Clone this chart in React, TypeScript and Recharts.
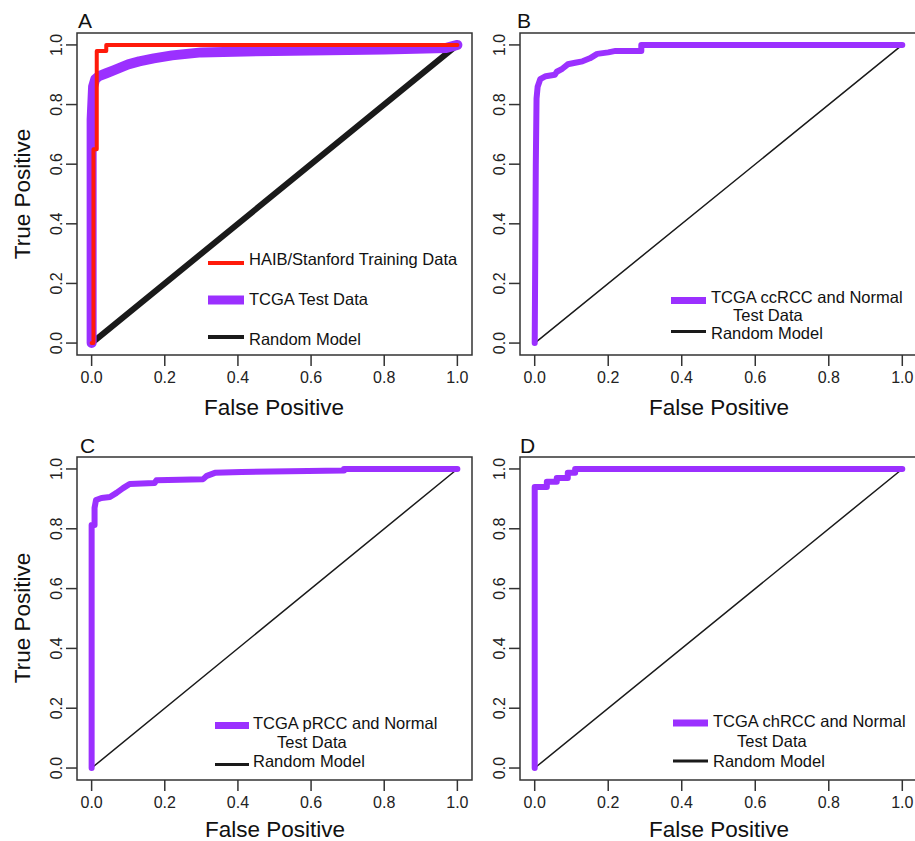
import React from 'react';
import { LineChart, Line, XAxis, YAxis, ReferenceArea } from 'recharts';

// ---------- data ----------
const axisTicks = [0, 0.2, 0.4, 0.6, 0.8, 1.0];
const axisTickLabels = ['0.0', '0.2', '0.4', '0.6', '0.8', '1.0'];

const randomFP = [0, 1];
const randomTP = [0, 1];

// Panel A
const haibFP = [0, 0.005, 0.005, 0.014, 0.014, 0.04, 0.04, 1.0];
const haibTP = [0, 0, 0.65, 0.65, 0.98, 0.98, 1.0, 1.0];
const tcgaFP = [0, 0, 0.004, 0.01, 0.02, 0.04, 0.06, 0.08, 0.1, 0.13, 0.17, 0.22, 0.3, 0.5, 0.8, 0.97, 1.0];
const tcgaTP = [0, 0.75, 0.86, 0.885, 0.895, 0.905, 0.915, 0.925, 0.935, 0.945, 0.955, 0.965, 0.975, 0.98, 0.985, 0.99, 1.0];

// Panel B
const ccFP = [0, 0.003, 0.005, 0.008, 0.015, 0.03, 0.055, 0.06, 0.075, 0.09, 0.11, 0.13, 0.15, 0.17, 0.2, 0.22, 0.29, 0.29, 1.0];
const ccTP = [0, 0.6, 0.82, 0.86, 0.885, 0.895, 0.9, 0.91, 0.92, 0.935, 0.94, 0.945, 0.955, 0.97, 0.975, 0.98, 0.98, 1.0, 1.0];

// Panel C
const pFP = [0, 0, 0.008, 0.008, 0.012, 0.027, 0.05, 0.068, 0.086, 0.104, 0.172, 0.177, 0.305, 0.315, 0.337, 0.41, 0.69, 0.69, 1.0];
const pTP = [0, 0.813, 0.813, 0.87, 0.896, 0.903, 0.906, 0.92, 0.936, 0.95, 0.953, 0.962, 0.966, 0.977, 0.987, 0.99, 0.995, 1.0, 1.0];

// Panel D
const chFP = [0, 0, 0.033, 0.033, 0.06, 0.06, 0.09, 0.09, 0.11, 0.11, 1.0];
const chTP = [0, 0.94, 0.94, 0.957, 0.957, 0.97, 0.97, 0.987, 0.987, 1.0, 1.0];

const panelLetters = ['A', 'B', 'C', 'D'];
const xTitle = 'False Positive';
const yTitle = 'True Positive';
const legendA = ['HAIB/Stanford Training Data', 'TCGA Test Data', 'Random Model'];
const legendB = ['TCGA ccRCC and Normal', 'Test Data', 'Random Model'];
const legendC = ['TCGA pRCC and Normal', 'Test Data', 'Random Model'];
const legendD = ['TCGA chRCC and Normal', 'Test Data', 'Random Model'];

// ---------- styling ----------
const FONT = '"Liberation Sans", Arial, Helvetica, sans-serif';
const RED = '#ff1a0a';
const PURPLE = '#9b30ff';
const BLACK = '#1a1a1a';
const DOMAIN: [number, number] = [-0.04, 1.04];

const zip = (xs: number[], ys: number[]) => xs.map((x, i) => ({ x, y: ys[i] }));
const fmt = (v: number) => {
  const i = axisTicks.indexOf(v);
  return i >= 0 ? axisTickLabels[i] : v.toFixed(1);
};

type Series = { data: { x: number; y: number }[]; color: string; width: number };

const YTick = (p: any) => {
  const { x, y, payload } = p;
  return (
    <text
      x={x}
      y={y}
      transform={`rotate(-90 ${x} ${y})`}
      textAnchor="middle"
      fill="#222"
      fontSize={16}
      fontFamily={FONT}
    >
      {fmt(payload.value)}
    </text>
  );
};

function Panel(props: {
  left: number;
  top: number;
  width: number;
  height: number;
  margin: { top: number; right: number; bottom: number; left: number };
  yWidth: number;
  xHeight: number;
  series: Series[];
}) {
  const { left, top, width, height, margin, yWidth, xHeight, series } = props;
  return (
    <div style={{ position: 'absolute', left, top }}>
      <LineChart width={width} height={height} margin={margin}>
        <XAxis
          type="number"
          dataKey="x"
          domain={DOMAIN}
          ticks={axisTicks}
          interval={0}
          allowDataOverflow
          axisLine={false}
          tickSize={11}
          tickMargin={6}
          height={xHeight}
          tick={{ fill: '#222', fontSize: 16, fontFamily: FONT }}
          tickLine={{ stroke: '#333', strokeWidth: 1.5 }}
          tickFormatter={fmt}
        />
        <YAxis
          type="number"
          domain={DOMAIN}
          ticks={axisTicks}
          interval={0}
          allowDataOverflow
          axisLine={false}
          tickSize={11}
          tickMargin={4}
          width={yWidth}
          tick={(p: any) => <YTick {...p} />}
          tickLine={{ stroke: '#333', strokeWidth: 1.5 }}
        />
        <ReferenceArea
          x1={-0.04}
          x2={1.04}
          y1={-0.04}
          y2={1.04}
          fill="none"
          fillOpacity={0}
          stroke="#333"
          strokeWidth={1.5}
          ifOverflow="visible"
        />
        {series.map((s, i) => (
          <Line
            key={i}
            data={s.data}
            dataKey="y"
            type="linear"
            stroke={s.color}
            strokeWidth={s.width}
            strokeLinecap="round"
            strokeLinejoin="round"
            dot={false}
            activeDot={false}
            isAnimationActive={false}
            legendType="none"
          />
        ))}
      </LineChart>
    </div>
  );
}

const T = (p: { x: number; y: number; size?: number; anchor?: 'start' | 'middle' | 'end'; rot?: boolean; children: React.ReactNode }) => (
  <text
    x={p.x}
    y={p.y}
    fontSize={p.size ?? 16.5}
    fontFamily={FONT}
    fill="#111"
    textAnchor={p.anchor ?? 'start'}
    transform={p.rot ? `rotate(-90 ${p.x} ${p.y})` : undefined}
  >
    {p.children}
  </text>
);

const Swatch = ({ x1, x2, y, color, w }: { x1: number; x2: number; y: number; color: string; w: number }) => (
  <line x1={x1} x2={x2} y1={y} y2={y} stroke={color} strokeWidth={w} />
);

export default function App() {
  const random = zip(randomFP, randomTP);
  const seriesA: Series[] = [
    { data: random, color: BLACK, width: 6 },
    { data: zip(tcgaFP, tcgaTP), color: PURPLE, width: 10 },
    { data: zip(haibFP, haibTP), color: RED, width: 4 },
  ];
  const seriesB: Series[] = [
    { data: random, color: BLACK, width: 1.5 },
    { data: zip(ccFP, ccTP), color: PURPLE, width: 6 },
  ];
  const seriesC: Series[] = [
    { data: random, color: BLACK, width: 1.5 },
    { data: zip(pFP, pTP), color: PURPLE, width: 6 },
  ];
  const seriesD: Series[] = [
    { data: random, color: BLACK, width: 1.5 },
    { data: zip(chFP, chTP), color: PURPLE, width: 6 },
  ];

  return (
    <div
      style={{
        position: 'absolute',
        left: 0,
        top: 0,
        width: 915,
        height: 841,
        overflow: 'hidden',
        background: '#fff',
        fontFamily: FONT,
      }}
    >
      <Panel left={0} top={0} width={480} height={420} margin={{ top: 33, right: 8, bottom: 0, left: 0 }} yWidth={77} xHeight={65} series={seriesA} />
      <Panel left={440} top={0} width={480} height={420} margin={{ top: 33, right: 3, bottom: 0, left: 0 }} yWidth={80} xHeight={65} series={seriesB} />
      <Panel left={0} top={420} width={480} height={421} margin={{ top: 37, right: 8, bottom: 0, left: 0 }} yWidth={77} xHeight={61} series={seriesC} />
      <Panel left={440} top={420} width={480} height={421} margin={{ top: 37, right: 3, bottom: 0, left: 0 }} yWidth={80} xHeight={61} series={seriesD} />

      <svg width={915} height={841} style={{ position: 'absolute', left: 0, top: 0, pointerEvents: 'none' }}>
        {/* panel letters */}
        <T x={78} y={28} size={21}>{panelLetters[0]}</T>
        <T x={517} y={28} size={21}>{panelLetters[1]}</T>
        <T x={80} y={453} size={21}>{panelLetters[2]}</T>
        <T x={520} y={453} size={21}>{panelLetters[3]}</T>

        {/* axis titles */}
        <T x={30} y={194} size={22.5} anchor="middle" rot>{yTitle}</T>
        <T x={30} y={618} size={22.5} anchor="middle" rot>{yTitle}</T>
        <T x={274} y={415} size={22.5} anchor="middle">{xTitle}</T>
        <T x={719} y={415} size={22.5} anchor="middle">{xTitle}</T>
        <T x={275} y={837} size={22.5} anchor="middle">{xTitle}</T>
        <T x={719} y={837} size={22.5} anchor="middle">{xTitle}</T>

        {/* legend A */}
        <Swatch x1={208} x2={244} y={263} color={RED} w={4} />
        <Swatch x1={208} x2={244} y={300} color={PURPLE} w={9} />
        <Swatch x1={208} x2={244} y={337} color={BLACK} w={4} />
        <T x={249} y={265}>{legendA[0]}</T>
        <T x={249} y={305}>{legendA[1]}</T>
        <T x={249} y={345}>{legendA[2]}</T>

        {/* legend B */}
        <Swatch x1={671} x2={706} y={300.5} color={PURPLE} w={7} />
        <Swatch x1={671} x2={706} y={331.5} color={BLACK} w={3} />
        <T x={711} y={303}>{legendB[0]}</T>
        <T x={733} y={321}>{legendB[1]}</T>
        <T x={711} y={339}>{legendB[2]}</T>

        {/* legend C */}
        <Swatch x1={215} x2={249} y={725.5} color={PURPLE} w={7} />
        <Swatch x1={215} x2={249} y={764.5} color={BLACK} w={3} />
        <T x={253} y={729}>{legendC[0]}</T>
        <T x={277} y={748}>{legendC[1]}</T>
        <T x={253} y={767}>{legendC[2]}</T>

        {/* legend D */}
        <Swatch x1={673} x2={708} y={723} color={PURPLE} w={7} />
        <Swatch x1={673} x2={708} y={761} color={BLACK} w={3} />
        <T x={713} y={727}>{legendD[0]}</T>
        <T x={737} y={747}>{legendD[1]}</T>
        <T x={713} y={767}>{legendD[2]}</T>
      </svg>
    </div>
  );
}
